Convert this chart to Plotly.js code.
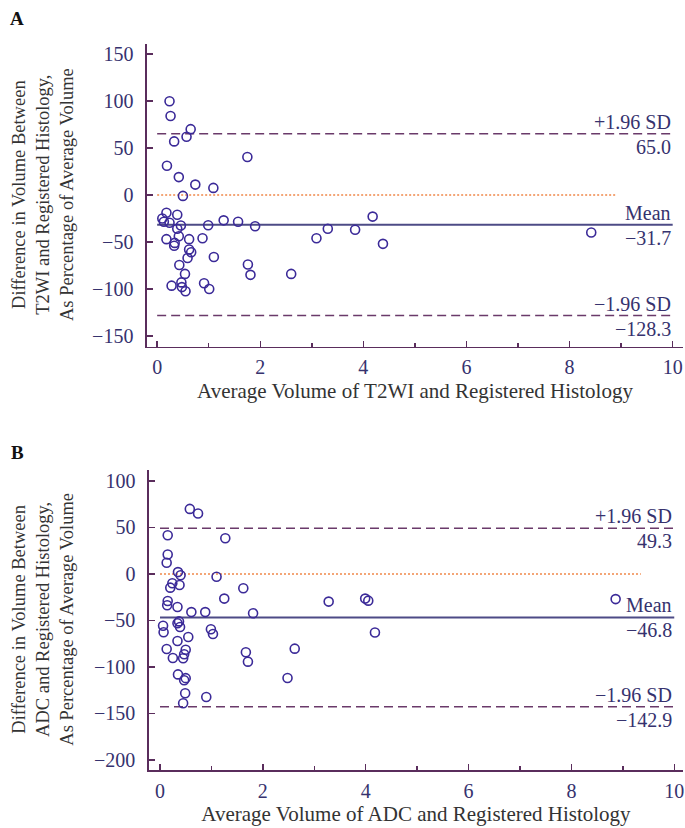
<!DOCTYPE html>
<html>
<head>
<meta charset="utf-8">
<script src="https://cdn.plot.ly/plotly-3.0.1.min.js"></script>
<style>html,body{margin:0;padding:0;background:#fff;}#chart{width:685px;height:828px;}</style>
</head>
<body>
<div id="chart"></div>
<script>
// Panel A: T2WI vs registered histology
const t2wiAvgVolume = [0.24,0.26,0.65,0.57,0.33,1.75,0.19,0.42,0.74,1.09,0.50,0.18,0.39,0.10,0.13,0.24,1.29,1.57,0.46,0.39,0.99,1.90,0.18,0.42,0.62,0.88,0.34,0.33,0.62,0.66,0.59,1.10,0.43,0.54,1.76,1.81,0.47,0.28,0.48,0.55,0.91,1.01,4.18,3.31,3.84,3.09,4.38,2.60,8.42];
const t2wiDiffPct   = [99.7,84,70,62,57,40.4,31,19,11,7.5,-1,-19,-21,-25,-28.5,-29.5,-27,-28.5,-32.5,-36,-32.3,-33.3,-47,-44,-47,-46,-51,-54,-58,-61,-67,-66,-74.5,-84,-74,-85,-93,-96.5,-98,-102.5,-94,-100,-23,-36,-37,-46,-52,-84,-40];
const t2wiUpper = 65.0, t2wiMean = -31.7, t2wiLower = -128.3;
const t2wiZeroEnd = 8.9;

// Panel B: ADC vs registered histology
const adcAvgVolume = [0.58,0.74,0.15,1.27,0.15,0.13,0.35,0.40,1.10,0.24,0.20,0.38,1.62,1.25,0.15,0.14,0.34,0.61,0.88,1.81,0.06,0.07,0.37,0.34,0.39,0.99,1.03,0.55,0.34,0.13,0.50,0.47,0.45,0.25,1.67,1.71,0.35,0.50,0.47,0.49,0.90,0.45,3.28,3.99,4.05,4.18,2.62,2.48,8.86];
const adcDiffPct   = [70,65,41.6,38.4,21,12,2,-1.4,-3,-10,-14.7,-11.8,-15.4,-26.5,-29,-33.7,-35.5,-41,-41,-42.3,-55.6,-62.7,-51,-53,-57,-59.5,-64.5,-67.7,-72,-80.6,-81.4,-86.3,-90.6,-90.3,-84.2,-94.3,-108,-112,-114.3,-128.3,-132.3,-139,-29.7,-26.5,-28.7,-63,-80.3,-111.8,-27];
const adcUpper = 49.3, adcMean = -46.8, adcLower = -142.9;
const adcZeroEnd = 9.35;

const lineStart = 0, lineEnd = 10;
const xTitleA = 'Average Volume of T2WI and Registered Histology';
const xTitleB = 'Average Volume of ADC and Registered Histology';
const yTitleA = ['Difference in Volume Between','T2WI and Registered Histology,','As Percentage of Average Volume'];
const yTitleB = ['Difference in Volume Between','ADC and Registered Histology,','As Percentage of Average Volume'];

const FONT = 'Liberation Serif, Times New Roman, serif';
const AXC = '#5a2d5c';
const TICKC = '#36326e';
const MARKC = '#3b2a98';
const SDC = '#6a3a6a';
const MEANC = '#4d4b86';
const ZEROC = '#f0884a';

function panelTraces(xs, ys, up, mean, lo, zeroEnd, xa, ya) {
  return [
    {x:[lineStart, zeroEnd], y:[0,0], xaxis:xa, yaxis:ya, mode:'lines', line:{color:ZEROC, width:1.5, dash:'2px,2px'}, hoverinfo:'skip'},
    {x:[lineStart, lineEnd], y:[up,up], xaxis:xa, yaxis:ya, mode:'lines', line:{color:SDC, width:1.5, dash:'9px,5px'}, hoverinfo:'skip'},
    {x:[lineStart, lineEnd], y:[lo,lo], xaxis:xa, yaxis:ya, mode:'lines', line:{color:SDC, width:1.5, dash:'9px,5px'}, hoverinfo:'skip'},
    {x:[lineStart, lineEnd], y:[mean,mean], xaxis:xa, yaxis:ya, mode:'lines', line:{color:MEANC, width:1.8}, hoverinfo:'skip'},
    {x:xs, y:ys, xaxis:xa, yaxis:ya, mode:'markers', marker:{symbol:'circle-open', size:9, color:MARKC, line:{width:1.6, color:MARKC}}}
  ];
}

const data = [].concat(
  panelTraces(t2wiAvgVolume, t2wiDiffPct, t2wiUpper, t2wiMean, t2wiLower, t2wiZeroEnd, 'x', 'y'),
  panelTraces(adcAvgVolume, adcDiffPct, adcUpper, adcMean, adcLower, adcZeroEnd, 'x2', 'y2')
);

function xax(range, domain, anchor, title) {
  return {
    domain: domain, anchor: anchor, range: range,
    showline:true, linecolor:AXC, linewidth:1.6, mirror:false,
    ticks:'inside', ticklen:6, tickwidth:1.5, tickcolor:AXC,
    tick0:0, dtick:2,
    minor:{dtick:1, tick0:0, ticks:'inside', ticklen:4, tickwidth:1.5, tickcolor:AXC},
    showgrid:false, zeroline:false,
    tickfont:{family:FONT, size:20, color:TICKC},
    ticklabelstandoff: 2,
    title:{text:title, font:{family:FONT, size:21, color:'#333333'}, standoff:6}
  };
}
function yax(range, domain, anchor) {
  return {
    domain: domain, anchor: anchor, range: range,
    showline:true, linecolor:AXC, linewidth:1.6,
    ticks:'inside', ticklen:6, tickwidth:1.5, tickcolor:AXC,
    tick0:0, dtick:50,
    showgrid:false, zeroline:false,
    tickfont:{family:FONT, size:20, color:TICKC},
    ticklabelstandoff: 8,
    tickformat:'d'
  };
}

function lab(text, xa, ya, yv, above) {
  return {text:text, xref:xa, yref:ya, x:lineEnd, y:yv, xanchor:'right', yanchor: above ? 'bottom' : 'top',
    yshift: above ? -1 : 0, showarrow:false, font:{family:FONT, size:20, color:TICKC}};
}
function fmt(v){ return (v < 0 ? '\u2212' : '') + Math.abs(v).toFixed(1); }

const annotations = [
  lab('+1.96 SD','x','y',t2wiUpper,true), lab(fmt(t2wiUpper),'x','y',t2wiUpper,false),
  lab('Mean','x','y',t2wiMean,true), lab(fmt(t2wiMean),'x','y',t2wiMean,false),
  lab('\u22121.96 SD','x','y',t2wiLower,true), lab(fmt(t2wiLower),'x','y',t2wiLower,false),
  lab('+1.96 SD','x2','y2',adcUpper,true), lab(fmt(adcUpper),'x2','y2',adcUpper,false),
  lab('Mean','x2','y2',adcMean,true), lab(fmt(adcMean),'x2','y2',adcMean,false),
  lab('\u22121.96 SD','x2','y2',adcLower,true), lab(fmt(adcLower),'x2','y2',adcLower,false),
  {text:'<b>A</b>', xref:'paper', yref:'paper', x:-0.2425, y:1.035, xanchor:'center', yanchor:'middle', showarrow:false, font:{family:FONT, size:19, color:'#111'}},
  {text:'<b>B</b>', xref:'paper', yref:'paper', x:-0.2425, y:0.438, xanchor:'center', yanchor:'middle', showarrow:false, font:{family:FONT, size:19, color:'#111'}},
  {text:yTitleA.join('<br>'), xref:'paper', yref:'paper', x:-0.194, y:0.792, xanchor:'center', yanchor:'middle', textangle:-90, showarrow:false, font:{family:FONT, size:18.5, color:'#333333'}},
  {text:yTitleB.join('<br>'), xref:'paper', yref:'paper', x:-0.194, y:0.207, xanchor:'center', yanchor:'middle', textangle:-90, showarrow:false, font:{family:FONT, size:18.5, color:'#333333'}}
];

const layout = {
  width:685, height:828,
  margin:{l:147, r:2, t:44, b:58},
  paper_bgcolor:'#ffffff', plot_bgcolor:'#ffffff',
  showlegend:false,
  xaxis: xax([-0.197, 10.2], [0, 1], 'y', xTitleA),
  yaxis: yax([-161.4, 160.6], [0.5831, 1], 'x'),
  xaxis2: xax([-0.214, 10.17], [0.0037, 1], 'y2', xTitleB),
  yaxis2: yax([-210.8, 111.8], [0, 0.4132], 'x2'),
  annotations: annotations
};

Plotly.newPlot('chart', data, layout, {staticPlot:true, displayModeBar:false});
</script>
</body>
</html>
